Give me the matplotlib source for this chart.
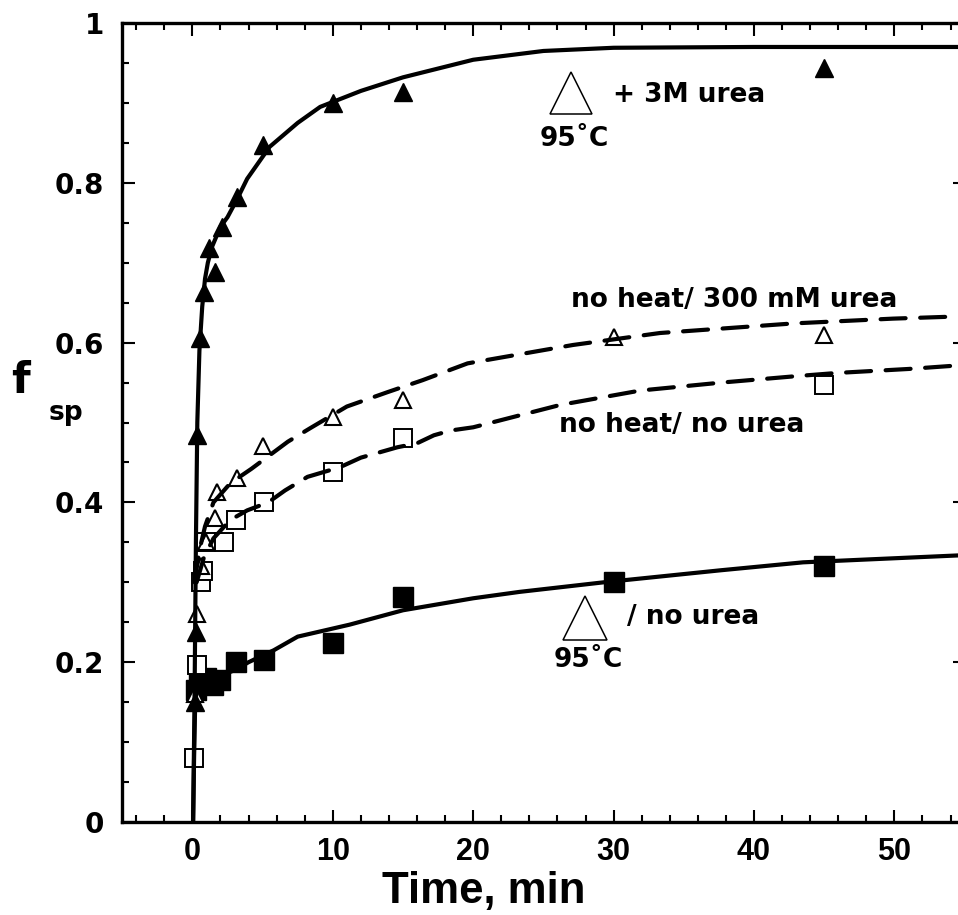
import matplotlib
matplotlib.use("Agg")
import matplotlib.pyplot as plt
from matplotlib.ticker import MultipleLocator

# ---------------- data ----------------
# +3M urea, 95 C  (filled triangles)
t_urea3 = [0.15, 0.25, 0.35, 0.57, 0.8, 1.15, 1.6, 2.1, 3.2, 5, 10, 15, 45]
f_urea3 = [0.15, 0.238, 0.484, 0.606, 0.663, 0.718, 0.688, 0.745, 0.782, 0.847, 0.90, 0.914, 0.944]

# no heat / 300 mM urea  (open triangles)
t_nh300 = [0.15, 0.3, 0.6, 1.0, 1.6, 1.75, 3.2, 5, 10, 15, 30, 45]
f_nh300 = [0.16, 0.26, 0.32, 0.35, 0.38, 0.413, 0.43, 0.47, 0.507, 0.528, 0.607, 0.61]

# no heat / no urea  (open squares)
t_nhnu = [0.1, 0.3, 0.6, 0.75, 1.0, 2.25, 3.1, 5.1, 10, 15, 45]
f_nhnu = [0.08, 0.197, 0.30, 0.314, 0.35, 0.35, 0.378, 0.40, 0.438, 0.48, 0.547]

# 95 C / no urea  (filled squares)
t_95nu = [0.25, 0.5, 1.0, 1.5, 2.0, 3.1, 5.1, 10, 15, 30, 45]
f_95nu = [0.165, 0.178, 0.18, 0.172, 0.178, 0.20, 0.203, 0.224, 0.282, 0.30, 0.32]

# fitted curves (traced)
ct_urea3 = [0.05, 0.15, 0.25, 0.35, 0.5, 0.7, 0.9, 1.1, 1.4, 2.0, 2.5, 3.2, 3.9, 5.5, 7.5, 9.1, 12, 15, 20, 25, 30, 40, 55]
cf_urea3 = [0.0, 0.15, 0.35, 0.5, 0.59, 0.645, 0.68, 0.70, 0.72, 0.745, 0.757, 0.78, 0.805, 0.845, 0.875, 0.895, 0.915, 0.932, 0.954, 0.965, 0.969, 0.97, 0.97]

ct_95nu = [0.05, 0.12, 0.2, 0.35, 0.6, 1, 2, 3, 4, 5.8, 7.5, 11.2, 15, 20, 23.3, 29.3, 37.6, 43.5, 55]
cf_95nu = [0.0, 0.08, 0.15, 0.17, 0.175, 0.178, 0.183, 0.19, 0.2, 0.215, 0.232, 0.247, 0.265, 0.28, 0.288, 0.30, 0.315, 0.325, 0.334]

ct_nh300 = [0.15, 0.5, 0.9, 1.5, 2.7, 4.2, 6.8, 8.4, 11, 13.9, 16.4, 19.6, 27.1, 33.3, 42.8, 49.9, 55]
cf_nh300 = [0.30, 0.34, 0.37, 0.40, 0.424, 0.442, 0.476, 0.493, 0.52, 0.538, 0.553, 0.574, 0.597, 0.612, 0.624, 0.63, 0.633]

ct_nhnu = [0.3, 0.8, 1.5, 2.7, 3.9, 5.4, 6.6, 8.2, 10.5, 12, 13.2, 14.6, 16, 17.2, 18.4, 20, 26.2, 31.9, 37.7, 43, 45.9, 51, 55]
cf_nhnu = [0.30, 0.33, 0.355, 0.378, 0.39, 0.40, 0.415, 0.432, 0.444, 0.456, 0.462, 0.469, 0.474, 0.484, 0.49, 0.494, 0.522, 0.54, 0.55, 0.558, 0.562, 0.567, 0.572]

x_ticks = [0, 10, 20, 30, 40, 50]
y_ticks = [0, 0.2, 0.4, 0.6, 0.8, 1]
y_tick_labels = ["0", "0.2", "0.4", "0.6", "0.8", "1"]

# ---------------- figure ----------------
W, H = 958, 915
fig = plt.figure(figsize=(W / 100, H / 100), dpi=100)
fig.patch.set_facecolor("white")

def fx(px):
    return px / W

def fy(py):
    return 1 - py / H

x0px, x1px = 122.2, 964.6
y0px, y1px = 822, 23
ax = fig.add_axes([fx(x0px), fy(y0px), fx(x1px) - fx(x0px), fy(y1px) - fy(y0px)])
ax.set_xlim(-5, 55)
ax.set_ylim(0, 1)

for s in ax.spines.values():
    s.set_linewidth(2.4)

ax.xaxis.set_major_locator(MultipleLocator(10))
ax.xaxis.set_minor_locator(MultipleLocator(2))
ax.yaxis.set_major_locator(MultipleLocator(0.2))
ax.yaxis.set_minor_locator(MultipleLocator(0.05))
ax.tick_params(which="both", direction="in", top=True, right=True, width=1.5)
ax.tick_params(which="major", length=9)
ax.tick_params(axis="y", which="major", pad=13)
ax.tick_params(axis="x", which="major", pad=11)
ax.tick_params(which="minor", length=5)
ax.set_xticks(x_ticks)
ax.set_yticks(y_ticks)
ax.set_yticklabels(y_tick_labels)
for lab in ax.get_xticklabels():
    lab.set_fontfamily(["Liberation Sans", "DejaVu Sans"])
    lab.set_fontweight("bold")
    lab.set_fontsize(22)
for lab in ax.get_yticklabels():
    lab.set_fontfamily("DejaVu Sans")
    lab.set_fontweight("bold")
    lab.set_fontsize(20)

# markers
ax.plot(t_95nu, f_95nu, ls="none", marker="s", ms=15, mfc="black", mec="black", zorder=3)
ax.plot(t_nhnu, f_nhnu, ls="none", marker="s", ms=13.5, mfc="white", mec="black", mew=1.4, zorder=3)
ax.plot(t_nh300, f_nh300, ls="none", marker="^", ms=12, mfc="white", mec="black", mew=1.5, zorder=3)
ax.plot(t_urea3, f_urea3, ls="none", marker="^", ms=13, mfc="black", mec="black", zorder=3)

# curves
ax.plot(ct_urea3, cf_urea3, color="black", lw=3, solid_capstyle="round", zorder=4)
ax.plot(ct_95nu, cf_95nu, color="black", lw=3, solid_capstyle="round", zorder=4)
ax.plot(ct_nh300, cf_nh300, color="black", lw=3, dashes=(6, 3.5), dash_capstyle="round", zorder=4)
ax.plot(ct_nhnu, cf_nhnu, color="black", lw=3, dashes=(6, 3.5), dash_capstyle="round", zorder=4)

# axis labels
fig.text(fx(484), fy(903), "Time, min", fontsize=31.5, fontweight="bold",
         family=["Liberation Sans", "DejaVu Sans"], ha="center", va="baseline")
fig.text(fx(21), fy(393), "f", fontsize=31, fontweight="bold",
         family="DejaVu Sans", ha="center", va="baseline")
fig.text(fx(66), fy(413), "sp", fontsize=19, fontweight="bold",
         family="DejaVu Sans", ha="center", va="center")

# annotations
tf = dict(fontweight="bold", family="DejaVu Sans", va="center")
fig.text(fx(689), fy(95), "+ 3M urea", fontsize=19, ha="center", **tf)
fig.text(fx(574), fy(139), "95˚C", fontsize=19, ha="center", **tf)
fig.text(fx(734), fy(300), "no heat/ 300 mM urea", fontsize=19, ha="center", **tf)
fig.text(fx(682), fy(425), "no heat/ no urea", fontsize=19, ha="center", **tf)
fig.text(fx(693), fy(617), "/ no urea", fontsize=19, ha="center", **tf)
fig.text(fx(588), fy(660), "95˚C", fontsize=19, ha="center", **tf)

# large open triangle symbols of the annotations
fig.lines.append(plt.Line2D([fx(571)], [fy(92.5)], transform=fig.transFigure, ls="none",
                            marker="^", ms=30, mfc="white", mec="black", mew=1.1))
fig.lines.append(plt.Line2D([fx(585)], [fy(617.5)], transform=fig.transFigure, ls="none",
                            marker="^", ms=31, mfc="white", mec="black", mew=1.1))

fig.savefig("out.png", dpi=100, facecolor="white")
